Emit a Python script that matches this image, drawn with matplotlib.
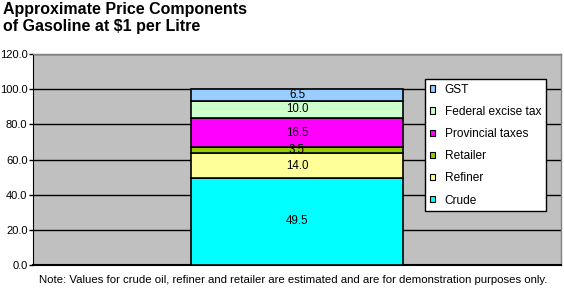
import matplotlib
matplotlib.use("Agg")
import matplotlib.pyplot as plt
from matplotlib.patches import Patch

plt.rcParams['font.family'] = ['Liberation Sans', 'DejaVu Sans']

components = ["Crude", "Refiner", "Retailer", "Provincial taxes", "Federal excise tax", "GST"]
values = [49.5, 14.0, 3.5, 16.5, 10.0, 6.5]
colors = ["#00FFFF", "#FFFF99", "#99CC00", "#FF00FF", "#CCFFCC", "#99CCFF"]
category = [0]
yticks = [0, 20, 40, 60, 80, 100, 120]

W, H = 564, 288
fig = plt.figure(figsize=(W / 100, H / 100), dpi=100)
ax = fig.add_axes([33 / W, (H - 265) / H, (561 - 33) / W, (265 - 54) / H])
ax.set_facecolor("#C0C0C0")

ax.set_ylim(0, 120)
ax.set_xlim(-0.5, 0.5)
ax.set_yticks(yticks)
ax.set_yticklabels([f"{v:.1f}" for v in yticks], fontsize=8)
ax.set_xticks([])
ax.yaxis.grid(True, color="black", linewidth=1)
ax.set_axisbelow(True)
ax.tick_params(axis="y", length=3, width=1, pad=1)

bottom = 0
for name, v, c in zip(components, values, colors):
    ax.bar(category, [v], width=0.4, bottom=bottom, color=c,
           edgecolor="black", linewidth=1.2, label=name, zorder=3)
    ax.text(category[0], bottom + v / 2, f"{v:.1f}", ha="center", va="center",
            fontsize=8.3, zorder=4)
    bottom += v

for s in ["top", "right"]:
    ax.spines[s].set_color("#808080")
    ax.spines[s].set_linewidth(1)
ax.spines["left"].set_color("black")
ax.spines["bottom"].set_color("black")
ax.spines["bottom"].set_linewidth(1.5)

handles = [Patch(facecolor=c, edgecolor="black", linewidth=0.8, label=n)
           for n, c in zip(components, colors)][::-1]
leg = ax.legend(handles=handles, loc="upper left",
                bbox_to_anchor=((425 - 33) / (561 - 33), (265 - 79) / (265 - 54)),
                fontsize=8.6, frameon=True, fancybox=False, framealpha=1,
                edgecolor="black", handlelength=0.45, handleheight=0.45,
                handletextpad=0.8, labelspacing=0.85, borderpad=0.4,
                borderaxespad=0)
leg.get_frame().set_linewidth(1)
leg.set_zorder(5)

fig.text(3 / W, 1 - 2 / H, "Approximate Price Components\nof Gasoline at $1 per Litre",
         ha="left", va="top", fontsize=11.5, fontweight="bold", linespacing=1.2)
fig.text(39 / W, 1 - 280 / H,
         "Note: Values for crude oil, refiner and retailer are estimated and are for demonstration purposes only.",
         ha="left", va="center", fontsize=8.2)

fig.savefig("out.png", dpi=100)
